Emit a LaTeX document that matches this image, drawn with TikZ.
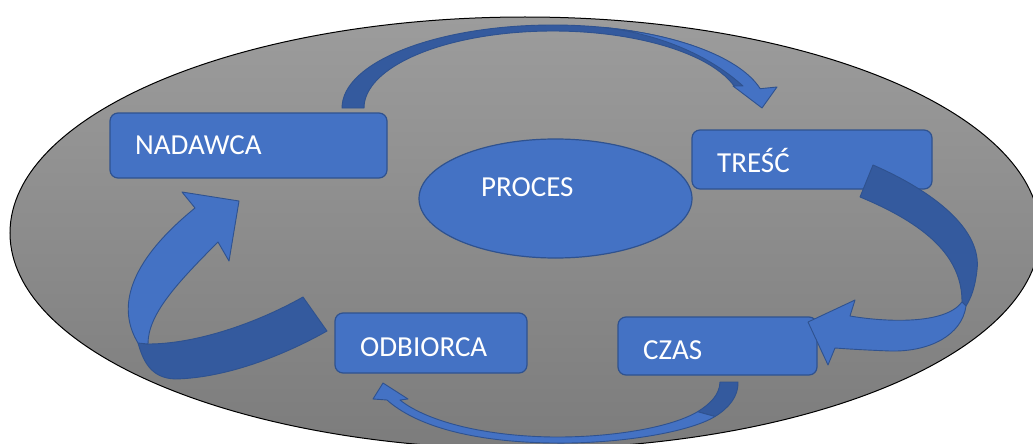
\documentclass[tikz,border=0pt]{standalone}
\usepackage{fontspec}
\setmainfont{Carlito}
\usetikzlibrary{shapes.geometric}
\definecolor{blue1}{HTML}{4472C4}
\definecolor{blue2}{HTML}{345A9E}
\definecolor{boxline}{HTML}{2F528F}
\definecolor{bgtop}{HTML}{9C9C9C}
\definecolor{bgbot}{HTML}{7C7C7C}
\begin{document}
\begin{tikzpicture}[x=1pt,y=-1pt,
  box/.style={draw=boxline, fill=blue1, line width=1.2pt, rounded corners=8pt, inner sep=0pt},
  lbl/.style={text=white, font=\fontsize{29}{31}\selectfont, inner sep=0pt, anchor=base west},
  front/.style={fill=blue1, draw=boxline, line width=0.9pt, line join=round},
  back/.style={fill=blue2, draw=boxline, line width=0.9pt, line join=round}]
\useasboundingbox (0,0) rectangle (1033,444);
\clip (0,0) rectangle (1033,444);

% grey background ellipse
\path[draw=black, line width=1pt, top color=bgtop, bottom color=bgbot]
  (525,233) ellipse [x radius=515, y radius=216];

% central ellipse
\node[ellipse, draw=boxline, fill=blue1, line width=1.2pt, inner sep=0pt,
      minimum width=273pt, minimum height=119pt] (proc) at (555.5,198.5) {};
\node[lbl] (procT) at (481,196) {PROCES};

% boxes
\node[box, minimum width=277pt, minimum height=65pt] (nad) at (248.5,145.5) {};
\node[lbl] (nadT) at (135,154) {NADAWCA};
\node[box, minimum width=240pt, minimum height=59pt] (tre) at (812,159.5) {};
\node[lbl] (treT) at (717,172) {TREŚĆ};
\node[box, minimum width=199pt, minimum height=58pt] (czas) at (717.5,346) {};
\node[lbl] (czasT) at (643,359) {CZAS};
\node[box, minimum width=192pt, minimum height=60pt] (odb) at (431,343) {};
\node[lbl] (odbT) at (360,356) {ODBIORCA};

% curved arrow: NADAWCA -> TRESC (over the top)
\path[back] (342,108) arc[start angle=180, end angle=344, x radius=211, y radius=83]
  -- (734.7,86.8) arc[start angle=344, end angle=180, x radius=189, y radius=77] -- cycle;
\path[front] (604.3,27.5) arc[start angle=284, end angle=346, x radius=214, y radius=84]
  -- (777,87) -- (762,108) -- (733,86) -- (743,86)
  .. controls (712,58) and (665,35) .. (604.3,27.5) -- cycle;

% curved arrow: TRESC -> CZAS (right side)
\path[back] (873,165) .. controls (935,192) and (982,230) .. (977,270)
  .. controls (975,288) and (971,298) .. (966,306) -- (962,302)
  .. controls (962,262) and (935,228) .. (860,197) -- cycle;
\path[front] (966,306) .. controls (962,335) and (930,352) .. (890,351)
  .. controls (865,350) and (848,349) .. (835,348)
  -- (828,365) -- (808,322) -- (855,300) -- (850,316)
  .. controls (885,322) and (945,325) .. (962,302) -- cycle;

% curved arrow: CZAS -> ODBIORCA (bottom)
\path[back] (720,382) -- (738,382) .. controls (738.6,396) and (729,408) .. (715,416.5)
  -- (697.6,411.7) .. controls (710,404) and (719.5,395) .. (720,382) -- cycle;
\path[front] (715,416.5) .. controls (690,432) and (620,444) .. (553,443)
  .. controls (470,442) and (415,425) .. (387,400)
  -- (373,399) -- (383,383) -- (408,399) -- (400,400)
  .. controls (425,420) and (480,436) .. (553,437)
  .. controls (610,437.5) and (670,428) .. (697.6,411.7) -- cycle;

% curved arrow: ODBIORCA -> NADAWCA (left side)
\path[back] (303,297) .. controls (255,324) and (195,344) .. (148,344) -- (138,343)
  .. controls (143,360) and (150,378) .. (175,379)
  .. controls (230,378) and (290,352) .. (327,331) -- cycle;
\path[front] (138,343) .. controls (118,310) and (125,265) .. (195,208)
  -- (182,192) -- (239,201) -- (229,261) -- (218,242)
  .. controls (175,285) and (148,315) .. (148,344) -- cycle;
\end{tikzpicture}
\end{document}
